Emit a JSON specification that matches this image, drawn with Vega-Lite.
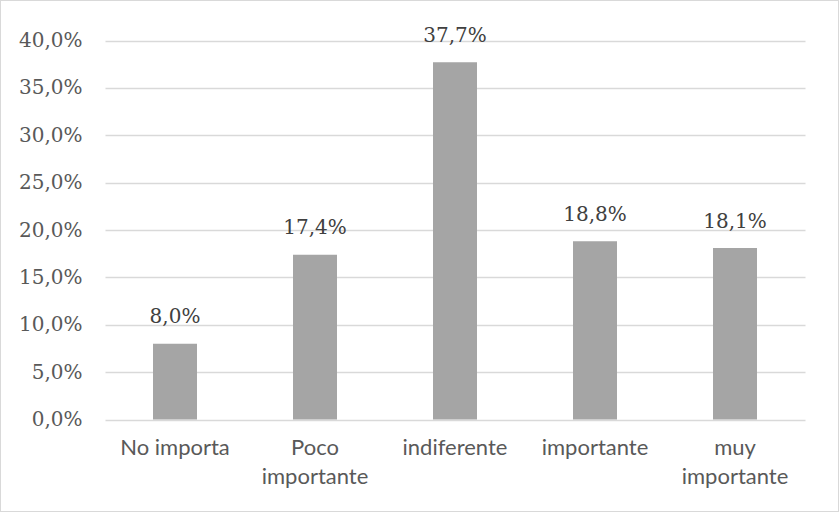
{
  "$schema": "https://vega.github.io/schema/vega-lite/v6.json",
  "width": 839,
  "height": 512,
  "autosize": "none",
  "padding": 0,
  "background": "white",
  "config": {
    "view": {"stroke": "#D9D9D9", "strokeWidth": 2},
    "locale": {"number": {"decimal": ",", "thousands": ".", "grouping": [3], "currency": ["", " €"]}}
  },
  "data": {
    "values": [
      {"cat": "No importa", "v": 0.080},
      {"cat": "Poco importante", "v": 0.174},
      {"cat": "indiferente", "v": 0.377},
      {"cat": "importante", "v": 0.188},
      {"cat": "muy importante", "v": 0.181}
    ]
  },
  "encoding": {
    "x": {
      "field": "cat", "type": "nominal", "sort": null,
      "scale": {"range": [105, 805], "paddingInner": 0, "paddingOuter": 0},
      "axis": {
        "title": null, "domain": false, "ticks": false, "grid": false,
        "labelAngle": 0, "offset": -75, "labelPadding": 0, "labelBaseline": "top",
        "labelFont": "Lato", "labelFontSize": 22, "labelColor": "#595959",
        "labelLineHeight": 29, "labelLimit": 0,
        "labelExpr": "datum.label == 'Poco importante' ? ['Poco','importante'] : datum.label == 'muy importante' ? ['muy','importante'] : datum.label"
      }
    },
    "y": {
      "field": "v", "type": "quantitative",
      "scale": {"domain": [0, 0.4], "range": [419.5, 40.5], "nice": false, "zero": true},
      "axis": {
        "title": null, "domain": false, "ticks": false,
        "values": [0, 0.05, 0.1, 0.15, 0.2, 0.25, 0.3, 0.35, 0.4],
        "format": ".1%", "offset": -82, "labelPadding": 0,
        "labelFont": "DejaVu Serif", "labelFontSize": 20, "labelColor": "#595959",
        "gridColor": "#D9D9D9", "gridWidth": 1.5
      }
    }
  },
  "layer": [
    {"mark": {"type": "bar", "width": 44, "color": "#A5A5A5"}},
    {
      "mark": {"type": "text", "baseline": "alphabetic", "dy": -20.5, "font": "DejaVu Serif", "fontSize": 20, "color": "#404040"},
      "encoding": {"text": {"field": "v", "type": "quantitative", "format": ".1%"}}
    }
  ]
}
